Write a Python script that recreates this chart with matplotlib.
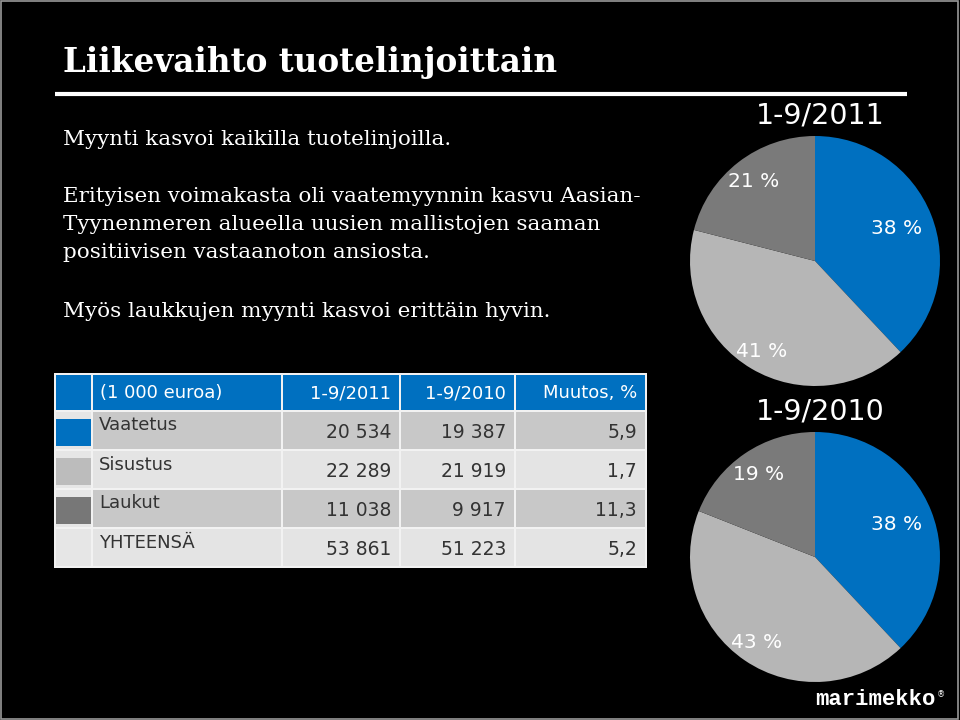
import matplotlib
matplotlib.use('Agg')
import matplotlib.pyplot as plt
import numpy as np
from matplotlib.patches import Rectangle

# data
categories = ['Vaatetus', 'Sisustus', 'Laukut']
share_2011 = [38, 41, 21]
share_2010 = [38, 43, 19]
header = ['(1 000 euroa)', '1-9/2011', '1-9/2010', 'Muutos, %']
row_labels = ['Vaatetus', 'Sisustus', 'Laukut', 'YHTEENSÄ']
sales_2011 = ['20 534', '22 289', '11 038', '53 861']
sales_2010 = ['19 387', '21 919', '9 917', '51 223']
change_pct = ['5,9', '1,7', '11,3', '5,2']

title = 'Liikevaihto tuotelinjoittain'
body = ['Myynti kasvoi kaikilla tuotelinjoilla.',
        'Erityisen voimakasta oli vaatemyynnin kasvu Aasian-',
        'Tyynenmeren alueella uusien mallistojen saaman',
        'positiivisen vastaanoton ansiosta.',
        'Myös laukkujen myynti kasvoi erittäin hyvin.']

blue = '#0070c0'
light = '#b6b6b6'
dark = '#7a7a7a'
pie_colors = [blue, light, dark]

fig = plt.figure(figsize=(9.6, 7.2), dpi=100, facecolor='black')

# overlay axes in pixel coordinates
ov = fig.add_axes([0, 0, 1, 1])
ov.set_xlim(0, 960)
ov.set_ylim(720, 0)
ov.axis('off')

ov.text(63, 72, title, color='white', fontsize=23.5, fontweight='bold',
        family='DejaVu Serif', va='baseline')
ov.plot([55, 907], [94, 94], color='white', lw=3, solid_capstyle='butt')

body_y = [145, 202, 230, 258, 317]
for txt, y in zip(body, body_y):
    ov.text(63, y, txt, color='white', fontsize=15.4, family='DejaVu Serif',
            va='baseline')

# table
col_x = [55, 92, 282, 400, 515, 646]
row_y = [374, 411, 450, 489, 528, 567]
row_bg = ['#c8c8c8', '#e4e4e4', '#c8c8c8', '#e4e4e4']
swatch = [blue, '#bcbcbc', '#777777', None]

ov.add_patch(Rectangle((54, 373), 593, 195, color='#f2f2f2', lw=0))
for j in range(5):
    ov.add_patch(Rectangle((col_x[j] + 1, row_y[0] + 1),
                           col_x[j + 1] - col_x[j] - 2, row_y[1] - row_y[0] - 2,
                           color=blue, lw=0))
for i in range(4):
    y0, y1 = row_y[i + 1], row_y[i + 2]
    ov.add_patch(Rectangle((col_x[0] + 1, y0 + 1), col_x[1] - col_x[0] - 2,
                           y1 - y0 - 2, color='#e6e6e6', lw=0))
    if swatch[i]:
        ov.add_patch(Rectangle((col_x[0] + 1, y0 + 8), col_x[1] - col_x[0] - 2,
                               y1 - y0 - 12, color=swatch[i], lw=0))
    for j in range(1, 5):
        ov.add_patch(Rectangle((col_x[j] + 1, y0 + 1),
                               col_x[j + 1] - col_x[j] - 2, y1 - y0 - 2,
                               color=row_bg[i], lw=0))

fs = 13
hy = (row_y[0] + row_y[1]) / 2 + 1
ov.text(col_x[1] + 8, hy, header[0], color='white', fontsize=fs, va='center')
for j in range(1, 4):
    ov.text(col_x[j + 2] - 9, hy, header[j], color='white', fontsize=fs,
            va='center', ha='right')
for i in range(4):
    yc = (row_y[i + 1] + row_y[i + 2]) / 2
    ov.text(col_x[1] + 7, yc - 5, row_labels[i], color='#333333', fontsize=fs,
            va='center')
    for j, vals in enumerate([sales_2011, sales_2010, change_pct]):
        ov.text(col_x[j + 3] - 9, yc + 2, vals[i], color='#333333',
                fontsize=13.5, va='center', ha='right')

# pies
label_r = {'2011': [0.7, 0.84, 0.8], '2010': [0.7, 0.83, 0.8]}


def draw_pie(rect, values, radii, name, title_y):
    ax = fig.add_axes(rect)
    wedges, _ = ax.pie(values, colors=pie_colors, startangle=90,
                       counterclock=False, wedgeprops=dict(lw=0))
    ax.set_xlim(-1, 1)
    ax.set_ylim(-1, 1)
    ax.set_aspect('equal')
    ax.axis('off')
    for w, v, r in zip(wedges, values, radii):
        ang = np.deg2rad((w.theta1 + w.theta2) / 2)
        ax.text(r * np.cos(ang), r * np.sin(ang), f'{v} %', color='white',
                fontsize=14.5, ha='center', va='center')
    ov.text(820, title_y, name, color='white', fontsize=20.5, ha='center',
            va='baseline')


draw_pie([690 / 960, (720 - 386) / 720, 250 / 960, 250 / 720], share_2011,
         label_r['2011'], '1-9/2011', 123)
draw_pie([690 / 960, 38 / 720, 250 / 960, 250 / 720], share_2010,
         label_r['2010'], '1-9/2010', 420)

# logo
ov.text(815, 705, 'marimekko', color='white', fontsize=16, fontweight='bold',
        family='Liberation Mono', va='baseline')
ov.text(937, 697, '®', color='white', fontsize=6, va='baseline')

# thin gray frame
fig.add_artist(Rectangle((0.001, 0.002), 0.997, 0.996, transform=fig.transFigure,
                         fill=False, edgecolor='#999999', lw=1.2))

fig.savefig('out.png', dpi=100, facecolor='black')
